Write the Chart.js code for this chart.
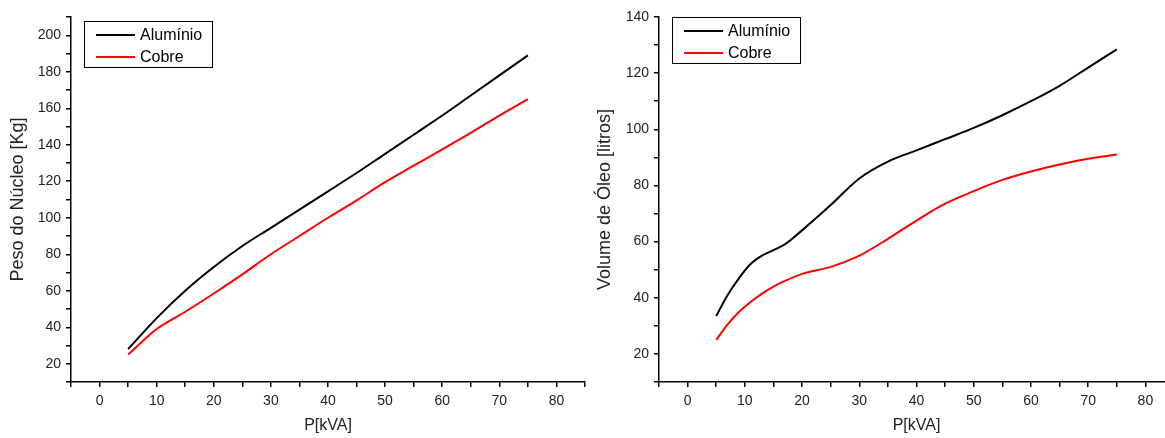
<!DOCTYPE html>
<html>
<head>
<meta charset="utf-8">
<script src="https://cdn.jsdelivr.net/npm/chart.js@4/dist/chart.umd.min.js"></script>
<style>
    html, body { margin: 0; padding: 0; background: #fff; overflow: hidden; }
    #wrap { position: relative; width: 1165px; height: 438px; overflow: hidden; }
    #peso-chart { position: absolute; left: 0; top: 0; }
    #oleo-chart { position: absolute; left: 590px; top: 0; }
</style>
</head>
<body>
<div id="wrap">
    <canvas id="peso-chart" width="600" height="438"></canvas>
    <canvas id="oleo-chart" width="600" height="438"></canvas>
</div>
<script>
// left chart - peso do nucleo
const pesoKva = [5, 10, 15, 20, 25, 30, 35, 40, 45, 50, 55, 60, 65, 70, 75];
const pesoAluminio = [28, 45, 60, 73, 84.5, 94.5, 104.5, 114.5, 124.5, 135, 145.5, 156, 167, 178, 189];
const pesoCobre = [25, 39, 48.5, 58.5, 69, 80, 90, 100, 109.5, 119.5, 128.5, 137.5, 146.5, 156, 165];

// right chart - volume de oleo
const oleoKva = [5, 7, 9, 11, 13, 15, 17, 20, 25, 30, 35, 40, 45, 50, 55, 60, 65, 70, 75];
const oleoAluminio = [33.5, 41, 47, 52, 55, 57, 59, 64, 73, 82.5, 88.5, 92.5, 96.5, 100.5, 105, 110, 115.5, 122, 128.5];
const oleoCobre = [25, 30.5, 35, 38.5, 41.5, 44, 46, 48.5, 51, 55, 61, 67.5, 73.5, 78, 82, 85, 87.5, 89.5, 91];

const seriesNames = ['Alumínio', 'Cobre'];
const seriesColors = ['#000000', '#ff0000'];

const FONT = 'Arial, "Liberation Sans", sans-serif';

// legend box drawn inside the plot area like the original
const boxLegend = {
    id: 'boxLegend',
    afterDraw(chart, args, opts) {
        const ctx = chart.ctx;
        const area = chart.chartArea;
        const x = area.left + opts.dx;
        const y = area.top + opts.dy;
        ctx.save();
        ctx.strokeStyle = '#000';
        ctx.lineWidth = 1;
        ctx.strokeRect(x + 0.5, y + 0.5, 128, 46);
        ctx.font = '16px ' + FONT;
        ctx.textBaseline = 'middle';
        chart.data.datasets.forEach((ds, i) => {
            const ly = y + 14 + i * 22;
            ctx.strokeStyle = ds.borderColor;
            ctx.lineWidth = 2;
            ctx.beginPath();
            ctx.moveTo(x + 12, ly);
            ctx.lineTo(x + 51, ly);
            ctx.stroke();
            ctx.fillStyle = '#000';
            ctx.fillText(ds.label, x + 56, ly + 1);
        });
        ctx.restore();
    }
};

function makeChart(canvas, xs, a, c, yMin, yMax, yTitle, yWidth, yTitlePad, padRight, legendDy) {
    return new Chart(canvas.getContext('2d'), {
        type: 'line',
        data: {
            datasets: [a, c].map((vals, i) => ({
                label: seriesNames[i],
                data: xs.map((x, j) => ({ x: x, y: vals[j] })),
                borderColor: seriesColors[i],
                backgroundColor: seriesColors[i],
                borderWidth: 2,
                pointRadius: 0,
                cubicInterpolationMode: 'monotone',
                fill: false
            }))
        },
        options: {
            responsive: false,
            animation: false,
            layout: { padding: { top: 17, right: padRight, left: 0, bottom: 0 } },
            plugins: {
                legend: { display: false },
                tooltip: { enabled: false },
                boxLegend: { dx: 13, dy: legendDy }
            },
            scales: {
                x: {
                    type: 'linear',
                    min: -5,
                    max: 85,
                    afterFit: s => { s.height = 56; },
                    border: { display: true, color: '#000', width: 1.5 },
                    grid: { drawOnChartArea: false, drawTicks: true, tickLength: 5, color: '#000', lineWidth: 1.5 },
                    ticks: {
                        stepSize: 5,
                        autoSkip: false,
                        maxRotation: 0,
                        padding: 6,
                        color: '#222',
                        font: { size: 14, family: FONT },
                        callback: v => (v % 10 === 0 ? v : '')
                    },
                    title: {
                        display: true,
                        text: 'P[kVA]',
                        color: '#222',
                        font: { size: 16, family: FONT },
                        padding: { top: 0, bottom: 3 }
                    }
                },
                y: {
                    type: 'linear',
                    min: yMin,
                    max: yMax,
                    afterFit: s => { s.width = yWidth; },
                    border: { display: true, color: '#000', width: 1.5 },
                    grid: { drawOnChartArea: false, drawTicks: true, tickLength: 5, color: '#000', lineWidth: 1.5 },
                    ticks: {
                        stepSize: 10,
                        autoSkip: false,
                        padding: 5,
                        color: '#222',
                        font: { size: 14, family: FONT },
                        callback: v => (v % 20 === 0 ? v : '')
                    },
                    title: {
                        display: true,
                        text: yTitle,
                        color: '#222',
                        font: { size: 18, family: FONT },
                        padding: { top: yTitlePad, bottom: 0 }
                    }
                }
            }
        },
        plugins: [boxLegend]
    });
}

makeChart(document.querySelector('#peso-chart'), pesoKva, pesoAluminio, pesoCobre,
    10, 210, 'Peso do Núcleo [Kg]', 71, 7, 15, 4);

makeChart(document.querySelector('#oleo-chart'), oleoKva, oleoAluminio, oleoCobre,
    10, 140, 'Volume de Óleo [litros]', 69, 4, 16, 0);
</script>
</body>
</html>
